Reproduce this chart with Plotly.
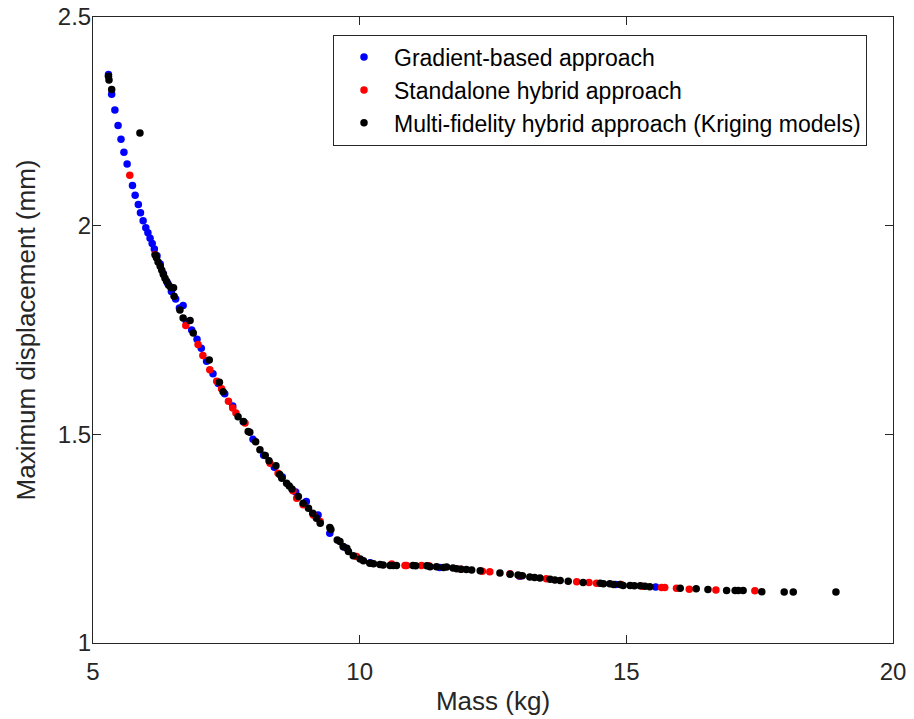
import plotly.graph_objs as go

# Gradient-based approach (blue)
gb_mass = [5.29, 5.35, 5.41, 5.47, 5.525, 5.58, 5.64, 5.74, 5.79, 5.85,
           5.89, 5.94, 5.99, 6.03, 6.07, 6.11, 6.15, 6.20, 6.26, 6.32,
           6.40, 6.47, 6.55, 6.62, 6.69, 6.75, 6.85, 6.95, 7.03, 7.13,
           7.25, 7.35, 7.47, 7.62, 7.82, 8.00, 8.20, 8.40, 8.55, 8.80,
           9.00, 9.22, 9.44, 9.70, 10.2, 11.5, 13.0, 14.8, 15.55]
gb_disp = [2.362, 2.315, 2.277, 2.240, 2.207, 2.176, 2.148, 2.096, 2.073, 2.051,
           2.031, 2.012, 1.995, 1.983, 1.970, 1.957, 1.944, 1.928, 1.908, 1.885,
           1.862, 1.842, 1.824, 1.803, 1.809, 1.770, 1.750, 1.728, 1.706, 1.675,
           1.645, 1.622, 1.597, 1.568, 1.530, 1.488, 1.450, 1.421, 1.398, 1.362,
           1.339, 1.307, 1.263, 1.230, 1.192, 1.181, 1.160, 1.140, 1.134]

# Standalone hybrid approach (red)
sh_mass = [5.69, 6.16, 6.74, 6.97, 7.06, 7.19, 7.32, 7.41, 7.54, 7.62,
           7.68, 7.85, 8.32, 8.47, 8.75, 8.82, 8.94, 9.13, 9.26, 9.94,
           10.6, 10.85, 10.88, 11.16, 11.3, 11.9, 12.3, 12.44, 12.82, 13.0,
           13.5, 14.07, 14.3, 14.44, 14.9, 15.3, 15.66, 15.72, 15.94, 16.18,
           16.68, 17.41]
sh_disp = [2.121, 1.931, 1.761, 1.715, 1.689, 1.655, 1.627, 1.609, 1.579, 1.563,
           1.551, 1.527, 1.431, 1.407, 1.365, 1.347, 1.331, 1.307, 1.291, 1.207,
           1.189, 1.186, 1.186, 1.186, 1.185, 1.177, 1.172, 1.171, 1.166, 1.161,
           1.154, 1.147, 1.145, 1.143, 1.140, 1.136, 1.133, 1.133, 1.131, 1.129,
           1.127, 1.125]

# Multi-fidelity hybrid approach, Kriging models (black)
mf_mass = [5.29, 5.30, 5.35, 5.88, 6.17, 6.19, 6.22, 6.26, 6.29, 6.32,
           6.35, 6.38, 6.42, 6.46, 6.51, 6.52, 6.63, 6.69, 6.82, 6.88,
           7.18, 7.37, 7.44, 7.72, 7.82, 7.91, 7.94, 8.05, 8.13, 8.23,
           8.30, 8.43, 8.50, 8.54, 8.63, 8.68, 8.73, 8.85, 8.94, 9.04,
           9.12, 9.19, 9.26, 9.44, 9.46, 9.58, 9.63, 9.69, 9.76, 9.79,
           9.88, 10.01, 10.07, 10.19, 10.26, 10.38, 10.44, 10.57, 10.63, 10.69,
           11.0, 11.05, 11.26, 11.32, 11.44, 11.57, 11.63, 11.75, 11.82, 11.9,
           12.0, 12.1, 12.26, 12.63, 12.82, 12.97, 13.05, 13.19, 13.28, 13.38,
           13.57, 13.66, 13.76, 13.91, 14.19, 14.51, 14.57, 14.69, 14.76, 14.88,
           14.94, 15.07, 15.15, 15.26, 15.35, 15.44, 16.01, 16.31, 16.53, 16.88,
           17.04, 17.1, 17.19, 17.54, 17.96, 18.13, 18.93]
mf_disp = [2.358, 2.349, 2.326, 2.222, 1.930, 1.923, 1.913, 1.903, 1.893, 1.883,
           1.874, 1.867, 1.857, 1.852, 1.851, 1.831, 1.798, 1.779, 1.773, 1.743,
           1.678, 1.625, 1.602, 1.542, 1.531, 1.507, 1.505, 1.482, 1.463, 1.449,
           1.437, 1.425, 1.404, 1.395, 1.383, 1.376, 1.369, 1.351, 1.335, 1.323,
           1.311, 1.299, 1.287, 1.277, 1.272, 1.247, 1.243, 1.231, 1.227, 1.219,
           1.209, 1.201, 1.197, 1.191, 1.190, 1.188, 1.187, 1.186, 1.186, 1.186,
           1.186, 1.185, 1.185, 1.183, 1.183, 1.181, 1.182, 1.180, 1.178, 1.177,
           1.176, 1.175, 1.173, 1.168, 1.165, 1.163, 1.161, 1.158, 1.157, 1.156,
           1.153, 1.151, 1.150, 1.148, 1.145, 1.143, 1.142, 1.142, 1.140, 1.140,
           1.138, 1.138, 1.137, 1.137, 1.136, 1.135, 1.131, 1.130, 1.128, 1.126,
           1.126, 1.126, 1.126, 1.123, 1.122, 1.122, 1.122]

x_ticks = [5, 10, 15, 20]
y_ticks = [1, 1.5, 2, 2.5]
y_tick_text = ['1', '1.5', '2', '2.5']

font_family = 'Liberation Sans, Arial, Helvetica, sans-serif'
axis_color = '#262626'

fig = go.Figure()
fig.add_trace(go.Scatter(x=gb_mass, y=gb_disp, mode='markers', name='Gradient-based approach',
                         marker=dict(color='#0000ff', size=7.5)))
fig.add_trace(go.Scatter(x=sh_mass, y=sh_disp, mode='markers', name='Standalone hybrid approach',
                         marker=dict(color='#ff0000', size=7.5)))
fig.add_trace(go.Scatter(x=mf_mass, y=mf_disp, mode='markers', name='Multi-fidelity hybrid approach (Kriging models)',
                         marker=dict(color='#000000', size=7.5)))

axis_style = dict(showgrid=False, zeroline=False, showline=True, linecolor=axis_color, linewidth=1,
                  mirror='ticks', ticks='inside', ticklen=8, tickcolor=axis_color, automargin=False,
                  ticklabeloverflow='allow',
                  tickfont=dict(family=font_family, size=24, color=axis_color))

fig.update_layout(
    width=914, height=719,
    margin=dict(l=93, r=21, t=17, b=76),
    plot_bgcolor='white',
    paper_bgcolor='white',
    font=dict(family=font_family, color=axis_color),
    showlegend=True,
    legend=dict(x=0.3, y=0.972, xanchor='left', yanchor='top', tracegroupgap=0, itemwidth=50,
                bordercolor=axis_color, borderwidth=1, bgcolor='white',
                font=dict(family=font_family, size=23, color='#000000')),
    xaxis=dict(range=[5, 20], tickvals=x_ticks, ticklabelstandoff=7,
               title=dict(text='Mass (kg)', font=dict(size=26, color=axis_color), standoff=8),
               **axis_style),
    yaxis=dict(range=[1, 2.5], tickvals=y_ticks, ticktext=y_tick_text, ticklabelstandoff=-4,
               title=dict(text='Maximum displacement (mm)', font=dict(size=26, color=axis_color), standoff=14),
               **axis_style),
)

# drop the default 8px body margin so the figure fills the window; no modebar
fig.write_html('out.html', config={'displayModeBar': False},
               post_script="document.body.style.margin = '0px';")
